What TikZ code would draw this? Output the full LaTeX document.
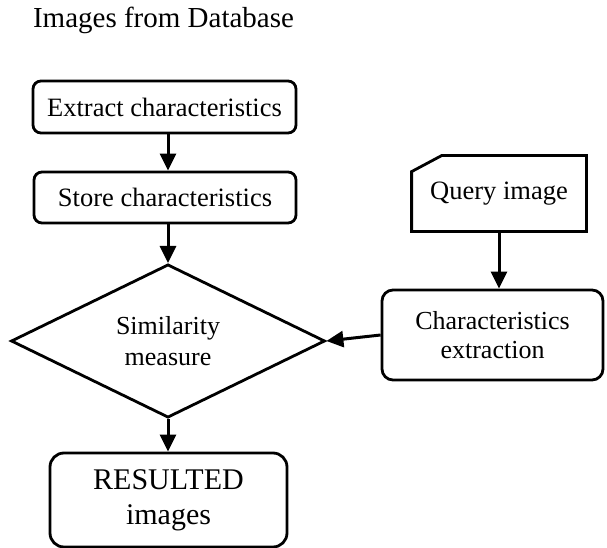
\documentclass[tikz,border=0pt]{standalone}
\usepackage{fontspec}
\setmainfont{Liberation Serif}
\usetikzlibrary{shapes.geometric,arrows.meta}
\begin{document}
\begin{tikzpicture}[x=1pt,y=-1pt,
  line width=2.8pt,
  box/.style={draw,rounded corners=8pt,inner sep=0pt,align=center,font=\fontsize{26.5}{30}\selectfont},
  arr/.style={-{Triangle[length=17pt,width=16pt]},line width=3pt},
  txt/.style={font=\fontsize{26.5}{30}\selectfont,align=center,inner sep=0pt}]
\useasboundingbox (0,0) rectangle (607,548);
\node[txt,font=\fontsize{29}{32}\selectfont,anchor=base] (title) at (163.5,28) {Images from Database};
\node[box,minimum width=263pt,minimum height=52pt] (extract) at (164.5,107) {Extract characteristics};
\node[box,minimum width=262pt,minimum height=51pt] (store) at (165,197.5) {Store characteristics};
\node[draw,diamond,minimum width=314pt,minimum height=152pt,inner sep=0pt,align=center,
  font=\fontsize{26}{31}\selectfont] (sim) at (168,341) {Similarity\\measure};
\node[box,rounded corners=14pt,minimum width=237pt,minimum height=94pt,
  font=\fontsize{30}{35}\selectfont] (res) at (168.5,500) {RESULTED\\images};
\node[txt,minimum width=172pt,minimum height=73pt] (query) at (499,193.5) {Query image};
\draw ([yshift=-16pt]query.north west) -- ([xshift=30pt]query.north west) -- (query.north east)
  -- (query.south east) -- (query.south west) -- cycle;
\node[box,rounded corners=11pt,minimum width=221pt,minimum height=90pt,
  font=\fontsize{26}{29}\selectfont] (char) at (492.5,335) {Characteristics\\extraction};
\draw[arr] (extract.south -| sim.north) -- (store.north -| sim.north);
\draw[arr] (store.south -| sim.north) -- (sim.north);
\draw[arr] (sim.south) -- (res.north -| sim.south);
\draw[arr] (query.south) -- (query.south |- char.north);
\draw[arr] (char.west) -- (sim.east);
\end{tikzpicture}
\end{document}
